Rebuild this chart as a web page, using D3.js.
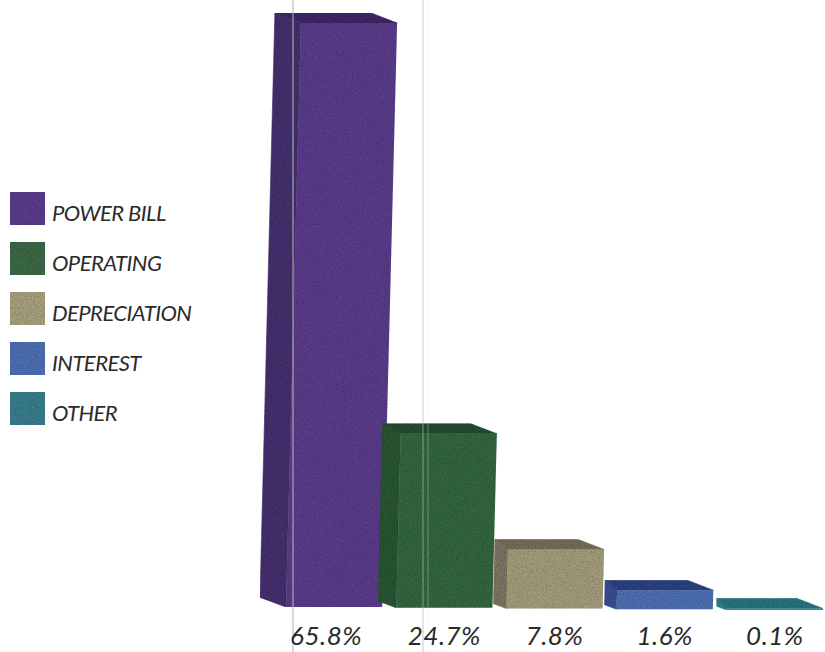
<!DOCTYPE html>
<html>
<head>
<meta charset="utf-8">
<style>
  html, body { margin: 0; padding: 0; background: #fff; }
  svg { display: block; }
  text { font-family: Lato, "Open Sans", sans-serif; font-style: italic; fill: #2a2a2a; }
</style>
<script src="https://cdn.jsdelivr.net/npm/d3@7/dist/d3.min.js"></script>
</head>
<body>
<svg id="chart"></svg>
<script>
const categories = ["POWER BILL", "OPERATING", "DEPRECIATION", "INTEREST", "OTHER"];
const printedLabels = ["65.8%", "24.7%", "7.8%", "1.6%", "0.1%"];
// heights as drawn in the picture, they are not to scale with the printed numbers
const drawnValues = [65.8, 19.6, 6.65, 2.14, 0.17];
const frontColors = ["#5c3d8c", "#35673f", "#a59e7c", "#5071b4", "#3f93a3"];
const sideColors = ["#47306f", "#2c5636", "#7f7665", "#3a4f95", "#2f7f8e"];
const topColors = ["#3f2b68", "#264d34", "#776d5d", "#2f4285", "#2b7482"];
const swatchColors = ["#5b3d8e", "#3c6b47", "#a8a27f", "#4f71b5", "#3a7f8f"];
const sideDepths = [26, 18, 13, 12, 10];
const creases = [293, 423, 428];

const width = 825, height = 652;
const svg = d3.select("#chart").attr("width", width).attr("height", height);

// print grain of the scan
const grain = svg.append("defs").append("filter").attr("id", "grain")
    .attr("x", 0).attr("y", 0).attr("width", 1).attr("height", 1);
grain.append("feTurbulence").attr("type", "fractalNoise").attr("baseFrequency", 0.9).attr("numOctaves", 2).attr("seed", 4).attr("result", "noise");
grain.append("feColorMatrix").attr("in", "noise").attr("type", "matrix")
    .attr("values", "0 0 0 0 0  0 0 0 0 0  0 0 0 0 0  0.9 0 0 0 -0.32").attr("result", "dots");
grain.append("feComposite").attr("in", "dots").attr("in2", "SourceAlpha").attr("operator", "in").attr("result", "clipped");
const merge = grain.append("feMerge");
merge.append("feMergeNode").attr("in", "SourceGraphic");
merge.append("feMergeNode").attr("in", "clipped");

const x = d3.scaleBand().domain(categories).range([286, 823]).paddingInner(0.127).paddingOuter(0).align(0);
const h = d3.scaleLinear().domain([0, 65.8]).range([0, 584]);
const baseY = d3.scaleLinear().domain([0, 4]).range([607, 610]);

const lean = 0.0255; // bars tip to the right going up
const depthX = 26, depthY = 10;

const rows = categories.map((c, i) => {
    const w = x.bandwidth(), hh = h(drawnValues[i]);
    const x0 = x(c), y0 = baseY(i), y1 = y0 - hh, dx = hh * lean;
    return {
        c, i,
        front: [[x0, y0], [x0 + w, y0], [x0 + w + dx, y1], [x0 + dx, y1]],
        side: [[x0, y0], [x0 + dx, y1], [x0 + dx - sideDepths[i], y1 - depthY], [x0 - sideDepths[i], y0 - sideDepths[i] * 0.37]],
        top: [[x0 + dx, y1], [x0 + w + dx, y1], [x0 + w + dx - depthX, y1 - depthY], [x0 + dx - sideDepths[i], y1 - depthY]]
    };
});

const path = d => "M" + d.join("L") + "Z";

const bars = svg.append("g").selectAll("g").data(rows).join("g").attr("filter", "url(#grain)");
bars.append("path").attr("d", d => path(d.side)).attr("fill", d => sideColors[d.i]).attr("stroke", d => sideColors[d.i]).attr("stroke-width", 0.6);
bars.append("path").attr("d", d => path(d.top)).attr("fill", d => topColors[d.i]).attr("stroke", d => topColors[d.i]).attr("stroke-width", 0.6);
bars.append("path").attr("d", d => path(d.front)).attr("fill", d => frontColors[d.i]);

// fold lines of the scanned page
svg.append("g").selectAll("line").data(creases).join("line")
    .attr("x1", d => d).attr("x2", d => d)
    .attr("y1", 0).attr("y2", height)
    .attr("stroke", (d, i) => i == 2 ? "#e8e8e8" : "#b5b5b5")
    .attr("stroke-opacity", (d, i) => i == 2 ? 0.35 : 0.7)
    .attr("stroke-width", (d, i) => i == 0 ? 1.5 : 1);

// value labels
const axis = d3.axisBottom(x).tickSize(0).tickFormat((d, i) => printedLabels[i]);
const axisG = svg.append("g").attr("transform", "translate(0,620)").call(axis);
axisG.select(".domain").remove();
axisG.selectAll("text")
    .attr("font-size", 26)
    .attr("font-family", null)
    .attr("letter-spacing", 0.5)
    .attr("y", 6.5)
    .attr("dy", "0.71em")
    .attr("dx", (d, i) => i == 0 ? -8 : 0);

// legend
const legendY = d3.scalePoint().domain(categories).range([192, 392]);
const legend = svg.append("g").selectAll("g").data(categories).join("g")
    .attr("transform", d => `translate(10,${legendY(d)})`);
legend.append("rect").attr("width", 35).attr("height", 33)
    .attr("fill", (d, i) => swatchColors[i])
    .attr("filter", "url(#grain)");
legend.append("text").attr("x", 42).attr("y", 28.5).attr("font-size", 22)
    .attr("letter-spacing", -0.55).text(d => d);
</script>
</body>
</html>
